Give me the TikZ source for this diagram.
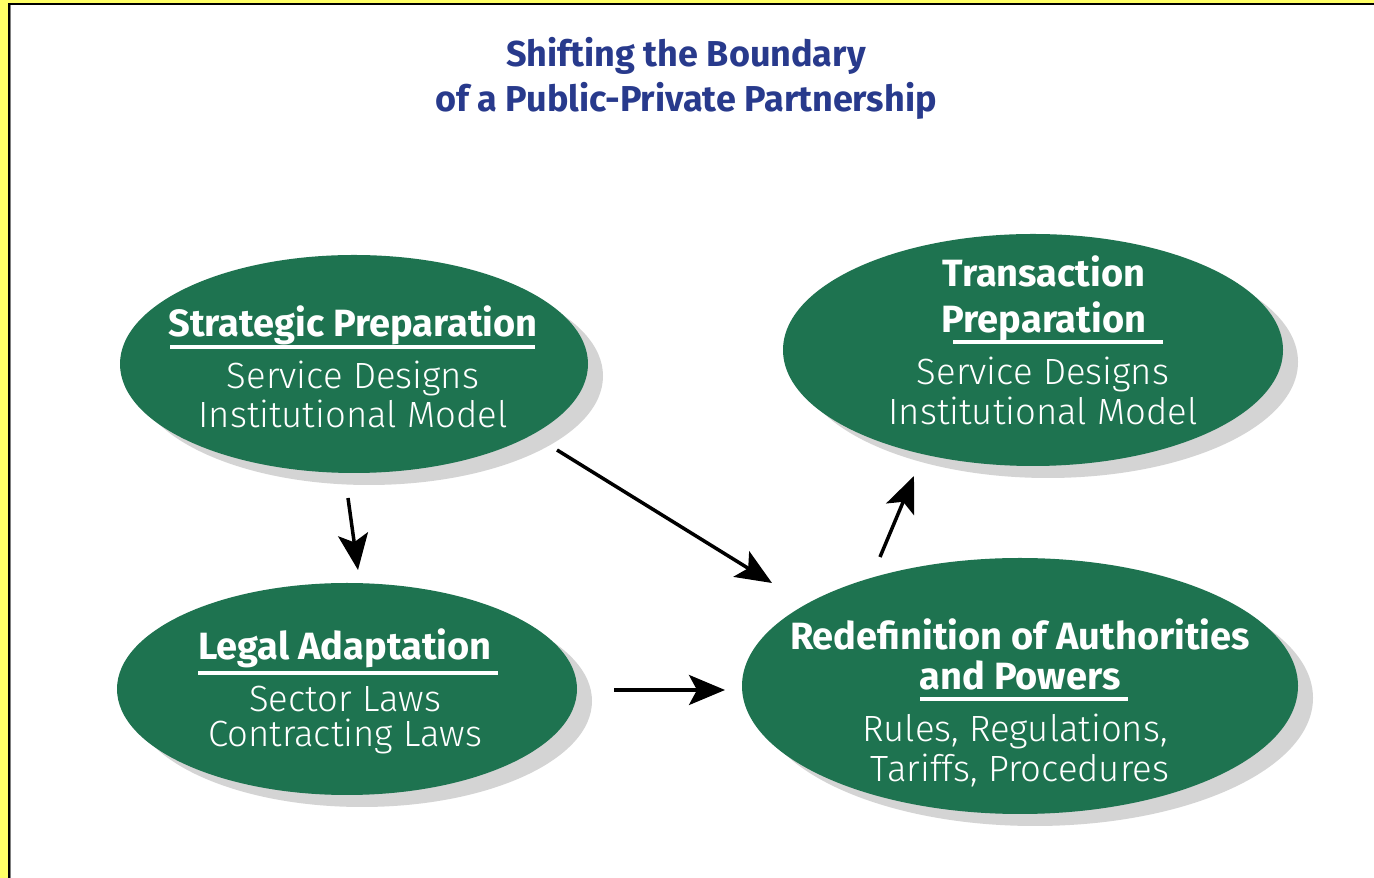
\documentclass[tikz,border=0pt]{standalone}
\usepackage{fontspec}
\setmainfont{Fira Sans}
\newfontfamily\bookfont{Fira Sans Light}
\usetikzlibrary{arrows.meta,shapes.geometric,shadows}
\definecolor{ppgreen}{RGB}{30,115,80}
\definecolor{ppshadow}{RGB}{212,212,212}
\definecolor{ppnavy}{RGB}{40,58,140}
\definecolor{ppyellow}{RGB}{255,255,102}
\begin{document}
\begin{tikzpicture}[x=1pt,y=1pt,
  blob/.style={ellipse, fill=ppgreen, inner sep=0pt,
    drop shadow={shadow xshift=15pt, shadow yshift=-12pt, fill=ppshadow, opacity=1}},
  head/.style={text=white, font=\bfseries\fontsize{38}{42}\selectfont, anchor=base, inner sep=0pt},
  body/.style={text=white, font=\bookfont\fontsize{36.5}{42}\selectfont, anchor=base, inner sep=0pt},
  ttl/.style={text=ppnavy, font=\bfseries\fontsize{36}{40}\selectfont, anchor=base, inner sep=0pt},
  uline/.style={white, line width=3.5pt},
  flow/.style={line width=3.5pt, -{Stealth[length=36pt, width=30pt, inset=8pt]}}]
\useasboundingbox (0,0) rectangle (1374,878);
% frame
\fill[ppyellow] (0,0) rectangle (1374,878);
\fill[white] (10,0) rectangle (1374,873);
\draw[black, line width=2pt] (8,874) -- (1374,874);
\draw[black, line width=2pt] (9,0) -- (9,875);
\draw[gray, line width=1pt] (10.5,0) -- (10.5,873);
% title
\node[ttl] (t1) at (686,811) {Shifting the Boundary};
\node[ttl] (t2) at (686,766) {of a Public-Private Partnership};
% ellipses
\node[blob, minimum width=468pt, minimum height=218pt] (S) at (354,514) {};
\node[blob, minimum width=500pt, minimum height=232pt] (T) at (1033,528) {};
\node[blob, minimum width=460pt, minimum height=212pt] (L) at (347,189) {};
\node[blob, minimum width=556pt, minimum height=256pt] (R) at (1020,192) {};
% Strategic
\node[head] (s1) at (353,541) {Strategic Preparation};
\draw[uline] (170,531) -- (535,531);
\node[body] (s2) at (353,489) {Service Designs};
\node[body] (s3) at (353,450) {Institutional Model};
% Transaction
\node[head] (ta) at (1044,591) {Transaction};
\node[head] (tb) at (1044,545) {Preparation};
\draw[uline] (953,536) -- (1163,536);
\node[body] (tc) at (1043,493) {Service Designs};
\node[body] (td) at (1043,453) {Institutional Model};
% Legal
\node[head] (l1) at (345,218) {Legal Adaptation};
\draw[uline] (198,205) -- (498,205);
\node[body] (l2) at (345,166) {Sector Laws};
\node[body] (l3) at (345,131) {Contracting Laws};
% Redefinition
\node[head] (ra) at (1020,228) {Redefinition of Authorities};
\node[head] (rb) at (1020,188) {and Powers};
\draw[uline] (920,179) -- (1128,179);
\node[body] (rc) at (1015,136) {Rules, Regulations,};
\node[body] (rd) at (1020,96) {Tariffs, Procedures};
% arrows
\coordinate (a1s) at (348,380); \coordinate (a1e) at (358,308);
\coordinate (a2s) at (557,428); \coordinate (a2e) at (772,295);
\coordinate (a3s) at (614,188); \coordinate (a3e) at (725,188);
\coordinate (a4s) at (880,321); \coordinate (a4e) at (914,402);
\draw[flow] (a1s) -- (a1e);
\draw[flow] (a2s) -- (a2e);
\draw[flow] (a3s) -- (a3e);
\draw[flow] (a4s) -- (a4e);
\end{tikzpicture}
\end{document}
